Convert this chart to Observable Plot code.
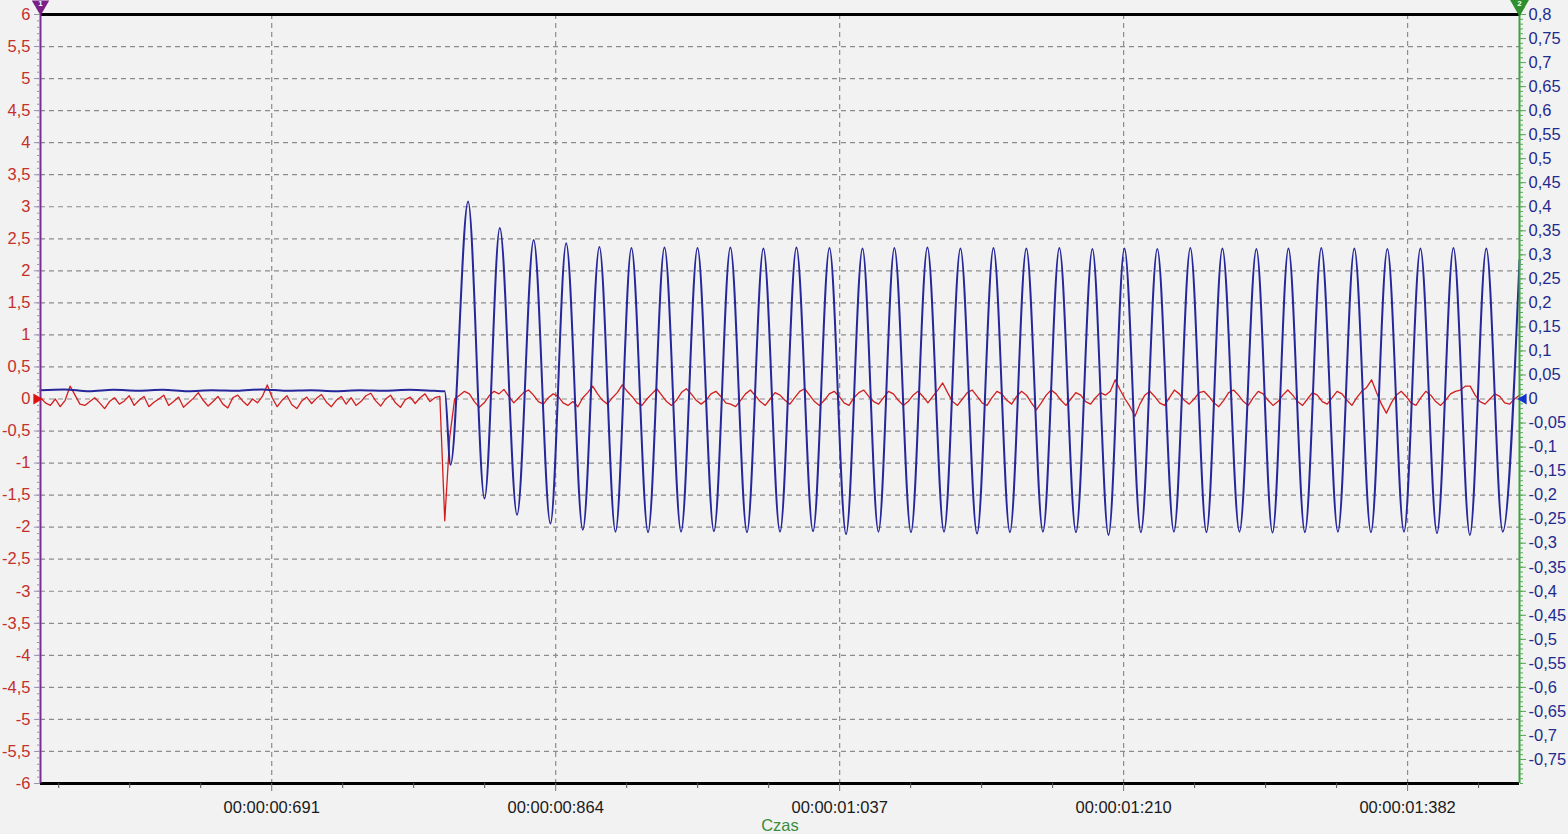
<!DOCTYPE html>
<html><head><meta charset="utf-8">
<script src="https://cdn.jsdelivr.net/npm/d3@7"></script>
<script src="https://cdn.jsdelivr.net/npm/@observablehq/plot@0.6"></script>
<style>body{margin:0;background:#f2f2f2;overflow:hidden;}</style>
</head><body>
<script>
// Left axis (channel 1, red) tick values
const leftTicks = [6,5.5,5,4.5,4,3.5,3,2.5,2,1.5,1,0.5,0,-0.5,-1,-1.5,-2,-2.5,-3,-3.5,-4,-4.5,-5,-5.5,-6];
// Right axis (channel 2, blue) tick values
const rightTicks = [0.8,0.75,0.7,0.65,0.6,0.55,0.5,0.45,0.4,0.35,0.3,0.25,0.2,0.15,0.1,0.05,0,-0.05,-0.1,-0.15,-0.2,-0.25,-0.3,-0.35,-0.4,-0.45,-0.5,-0.55,-0.6,-0.65,-0.7,-0.75];
// Time axis (ms)
const timeDomain = [550.5, 1450.5];
const timeTicks = [691.2, 864.0, 1036.8, 1209.6, 1382.4];
const timeLabels = ["00:00:00:691","00:00:00:864","00:00:01:037","00:00:01:210","00:00:01:382"];
const timeMinor = [561.6,604.8,648,734.4,777.6,820.8,907.2,950.4,993.6,1080,1123.2,1166.4,1252.8,1296,1339.2,1425.6];
const axisTitle = "Czas";

// Red channel: sampled every 3 ms from 550.5 ms (left-axis units)
const redStart = 550.5, redStep = 3;
const redValues = [
0.02,-0.06,-0.1,0.0,-0.12,-0.02,0.2,0.06,-0.08,-0.1,
-0.04,0.02,-0.06,-0.15,-0.04,0.02,-0.08,-0.03,0.05,-0.1,
-0.02,0.04,-0.12,-0.05,0.0,0.06,-0.1,-0.04,0.03,-0.13,
-0.06,0.01,0.1,-0.02,-0.11,-0.04,0.04,-0.08,-0.14,0.02,
0.06,-0.03,-0.1,0.0,-0.06,0.04,0.22,0.02,-0.12,-0.02,
0.05,-0.09,-0.15,-0.03,0.03,-0.07,0.01,0.07,-0.05,-0.12,
-0.02,0.04,-0.08,0.02,-0.1,-0.04,0.05,0.09,-0.03,-0.11,
0.0,0.06,-0.06,-0.13,-0.01,0.03,-0.07,0.02,0.08,-0.04,
0.02,0.04,
-1.9,-0.6,
0.0,0.06,0.12,0.08,-0.04,-0.13,-0.06,0.05,0.12,0.08,
0.15,0.04,-0.06,0.02,0.1,0.14,0.06,-0.04,-0.08,0.02,
0.08,0.04,-0.06,-0.1,-0.04,-0.12,0.02,0.1,0.2,0.08,
-0.02,-0.08,0.02,0.1,0.22,0.12,0.04,-0.06,-0.1,0.0,
0.08,0.16,0.06,-0.04,-0.1,-0.02,0.1,0.16,0.08,-0.02,
-0.08,-0.02,0.08,0.12,0.04,-0.06,-0.08,-0.12,-0.02,0.08,
0.14,0.05,-0.04,-0.1,0.0,0.1,0.06,-0.02,-0.08,0.02,
0.12,0.16,0.06,-0.04,-0.1,-0.02,0.08,0.12,0.04,-0.06,
-0.1,0.02,0.1,0.14,0.04,-0.04,-0.08,0.02,0.12,0.08,
-0.02,-0.1,-0.04,0.06,0.12,0.04,-0.06,0.04,0.14,0.25,
0.1,-0.04,-0.1,0.0,0.1,0.14,0.04,-0.06,-0.1,0.02,
0.12,0.08,-0.02,-0.08,0.04,0.12,0.06,-0.06,-0.17,-0.06,
0.06,0.14,0.08,-0.02,-0.1,0.0,0.1,0.06,-0.04,-0.08,
0.02,0.1,0.06,0.12,0.3,0.14,0.0,-0.12,-0.27,-0.08,
0.06,0.12,0.04,-0.06,-0.1,0.02,0.14,0.08,-0.02,-0.08,
0.0,0.1,0.12,0.04,-0.06,-0.12,-0.02,0.1,0.14,0.06,
-0.04,-0.1,0.02,0.12,0.08,-0.02,-0.1,-0.04,0.06,0.14,
0.06,-0.04,-0.1,0.0,0.1,0.06,-0.04,-0.08,0.02,0.12,
0.08,-0.02,-0.1,0.02,0.12,0.18,0.3,0.1,-0.08,-0.22,
-0.06,0.06,0.12,0.04,-0.06,-0.1,0.02,0.12,0.06,-0.04,
-0.1,-0.02,0.08,0.12,0.14,0.2,0.2,0.06,-0.04,-0.08,
0.0,0.08,0.04,-0.06,-0.08,0.0,0.06
];

// Blue channel: times (ms) of read points and values (right-axis units)
const blueT = [550.5,565,580,595,610,625,640,655,670,685,700,715,730,745,760,775,790,796.5,
800.0,810.7,820.7,830.0,840.5,850.6,860.8,870.4,880.5,
890.6,900.4,910.1,920.2,930.2,940.3,950.3,960.3,970.3,980.4,990.4,1000.5,1010.5,1020.6,1030.6,1040.7,
1050.7,1060.4,1070.1,1080.2,1090.2,1100.3,1110.3,1120.4,1130.4,1140.4,1150.4,1160.5,1170.5,1180.6,
1190.6,1200.4,1210.1,1220.1,1230.1,1240.2,1250.2,1260.0,1269.7,1280.1,1290.4,1300.2,1309.9,1319.9,
1329.9,1340.0,1350.0,1360.1,1370.1,1380.2,1390.2,1400.3,1410.3,1420.3,1430.3,1440.3,1450.5];
const blueV = [0.018,0.020,0.016,0.019,0.017,0.019,0.016,0.018,0.017,0.020,0.017,0.018,0.016,0.018,0.017,0.019,0.017,0.016,
-0.137,0.411,-0.207,0.356,-0.241,0.331,-0.259,0.324,-0.272,
0.316,-0.276,0.314,-0.277,0.315,-0.276,0.314,-0.275,0.315,-0.277,0.313,-0.276,0.315,-0.275,0.314,-0.281,
0.313,-0.276,0.314,-0.277,0.315,-0.276,0.313,-0.280,0.314,-0.277,0.313,-0.276,0.314,-0.277,
0.312,-0.283,0.313,-0.277,0.312,-0.276,0.314,-0.277,0.313,-0.276,0.312,-0.278,0.313,-0.277,
0.314,-0.276,0.313,-0.277,0.312,-0.276,0.313,-0.279,0.314,-0.283,0.313,-0.276,0.289];

const K = leftTicks[0] / rightTicks[0]; // right-axis units -> left-axis units
const fmt = v => String(v).replace(".", ",");
const red = redValues.map((v, i) => ({t: redStart + i * redStep, v}));
const blue = blueT.map((t, i) => ({t, v: blueV[i] * K}));
const [t0, t1] = timeDomain;
const minorLeft = d3.range(-60, 61).map(d => d / 10);
const minorRight = d3.range(-80, 81).map(d => d / 100 * K);
const FS = 16.5;

const chart = Plot.plot({
  width: 1568, height: 834,
  marginLeft: 40, marginRight: 49, marginTop: 14, marginBottom: 51,
  style: {background: "#f2f2f2", fontFamily: "'Liberation Sans', Arial, sans-serif", fontSize: FS + "px", overflow: "visible"},
  x: {domain: timeDomain},
  y: {domain: [leftTicks[leftTicks.length - 1], leftTicks[0]]},
  marks: [
    Plot.ruleY(leftTicks.filter(d => Math.abs(d) < 6), {stroke: "#8c8c8c", strokeDasharray: "5,4", strokeWidth: 1.2}),
    Plot.ruleX(timeTicks, {stroke: "#8c8c8c", strokeDasharray: "5,4", strokeWidth: 1.2}),
    Plot.line(red, {x: "t", y: "v", stroke: "#d21e1e", strokeWidth: 1.3}),
    Plot.line(blue, {x: "t", y: "v", stroke: "#26279a", strokeWidth: 2, curve: "monotone-x"}),
    Plot.ruleY([leftTicks[0], leftTicks[leftTicks.length - 1]], {stroke: "#000", strokeWidth: 3}),
    Plot.ruleX([t0], {stroke: "#7b2d96", strokeWidth: 2, y1: 6, y2: -6}),
    Plot.ruleX([t1], {stroke: "#3da33d", strokeWidth: 2, y1: 6, y2: -6}),
    Plot.axisY(minorLeft, {anchor: "left", tickSize: 3, tickFormat: () => "", stroke: "#9a8fb0", label: null}),
    Plot.axisY(leftTicks, {anchor: "left", tickSize: 6, tickPadding: 4, tickFormat: fmt, fill: "#c4302b", stroke: "#9a8fb0", fontSize: FS, label: null}),
    Plot.axisY(minorRight, {anchor: "right", tickSize: 3, tickFormat: () => "", stroke: "#5aa85a", label: null}),
    Plot.axisY(rightTicks.map(v => v * K), {anchor: "right", tickSize: 6, tickPadding: 3, tickFormat: d => fmt(+(d / K).toFixed(2)), fill: "#1f2b8f", stroke: "#5aa85a", fontSize: FS, label: null}),
    Plot.axisX(timeMinor, {anchor: "bottom", tickSize: 5, tickFormat: () => "", stroke: "#555", label: null}),
    Plot.axisX(timeTicks, {anchor: "bottom", tickSize: 8, tickPadding: 10, tickFormat: d => timeLabels[timeTicks.indexOf(d)], fill: "#1a1a1a", stroke: "#777", fontSize: FS, label: null}),
    Plot.text([axisTitle], {frameAnchor: "bottom", dy: 47, fill: "#3c8c3c", fontSize: FS}),
    Plot.dot([0], {x: t0, y: 6, symbol: "triangle", r: 6.5, rotate: 180, fill: "#7a1f86", stroke: "none", dy: -9}),
    Plot.text(["1"], {x: t0, y: 6, dy: -11, fill: "#fff", fontSize: 8, fontWeight: "bold"}),
    Plot.dot([0], {x: t1, y: 6, symbol: "triangle", r: 7, rotate: 180, fill: "#2e8f2e", stroke: "none", dy: -9}),
    Plot.text(["2"], {x: t1, y: 6, dy: -11, fill: "#fff", fontSize: 8, fontWeight: "bold"}),
    Plot.dot([0], {x: t0, y: 0, symbol: "triangle", r: 4, rotate: 90, fill: "#e01010", stroke: "none", dx: -4}),
    Plot.dot([0], {x: t1, y: 0, symbol: "triangle", r: 4, rotate: -90, fill: "#1530d0", stroke: "none", dx: 4})
  ]
});
document.body.appendChild(chart);
</script>
</body></html>
